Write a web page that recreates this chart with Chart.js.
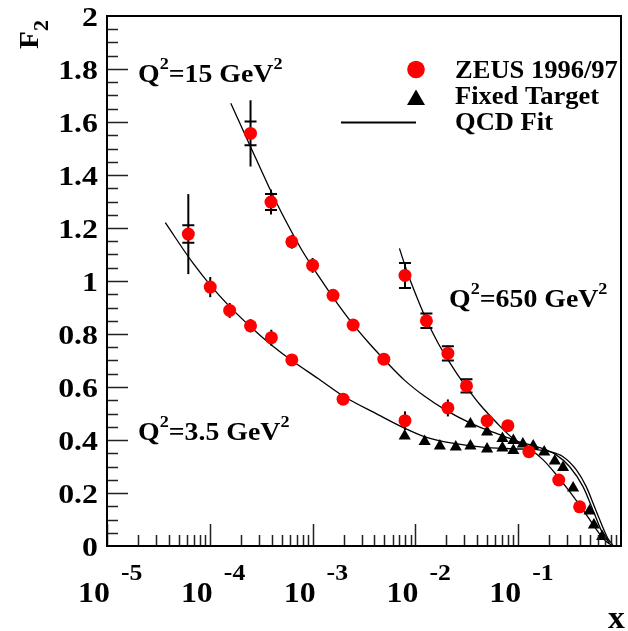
<!DOCTYPE html>
<html>
<head>
<meta charset="utf-8">
<title>F2 vs x</title>
<script src="https://cdn.jsdelivr.net/npm/chart.js@4.4.1/dist/chart.umd.min.js"></script>
<style>
  html, body { margin: 0; padding: 0; background: #fff; }
  #wrap { width: 628px; height: 631px; }
</style>
</head>
<body>
<div id="wrap"><canvas id="chartF2" width="628" height="631"></canvas></div>
<script>
// ==== Data: ZEUS 1996/97 ====
const zeusQ35X = [6.18e-5, 1.01e-4, 1.56e-4, 2.49e-4, 3.97e-4, 6.28e-4, 1.98e-3, 7.92e-3];
const zeusQ35Y = [1.177, 0.977, 0.889, 0.831, 0.786, 0.702, 0.554, 0.473];
const zeusQ35Stat = [0.033, 0.012, 0.01, 0.01, 0.01, 0.008, 0.008, 0.01];
const zeusQ35Tot = [0.151, 0.038, 0.028, 0.025, 0.03, 0.012, 0.012, 0.035];

const zeusQ15X = [2.49e-4, 3.94e-4, 6.28e-4, 1.0e-3, 1.58e-3, 2.48e-3, 4.93e-3, 2.07e-2];
const zeusQ15Y = [1.557, 1.298, 1.148, 1.059, 0.946, 0.834, 0.705, 0.521];
const zeusQ15Stat = [0.045, 0.03, 0.022, 0.01, 0.01, 0.01, 0.01, 0.01];
const zeusQ15Tot = [0.125, 0.047, 0.026, 0.028, 0.02, 0.015, 0.015, 0.032];

const zeusQ650X = [7.92e-3, 1.28e-2, 2.07e-2, 3.14e-2, 4.98e-2, 7.93e-2, 0.127, 0.248, 0.396];
const zeusQ650Y = [1.021, 0.850, 0.727, 0.604, 0.473, 0.454, 0.356, 0.249, 0.148];
const zeusQ650Stat = [0.047, 0.027, 0.027, 0.025, 0.012, 0.012, 0.01, 0.01, 0.01];
const zeusQ650Tot = [0.05, 0.029, 0.029, 0.027, 0.015, 0.015, 0.012, 0.012, 0.012];

// ==== Data: Fixed Target ====
const fixedX = [7.87e-3, 1.23e-2, 1.73e-2, 2.47e-2, 3.43e-2, 4.98e-2, 7.02e-2, 8.97e-2,
  3.43e-2, 4.98e-2, 7.02e-2, 8.97e-2, 0.111, 0.140, 0.179, 0.227, 0.273, 0.342, 0.494, 0.545, 0.656];
const fixedY = [0.415, 0.394, 0.377, 0.374, 0.377, 0.366, 0.370, 0.360,
  0.460, 0.430, 0.406, 0.398, 0.385, 0.377, 0.355, 0.321, 0.296, 0.219, 0.132, 0.079, 0.036];

// ==== Data: QCD Fit ====
const fitQ35X = [3.69e-5, 6.81e-5, 1.06e-4, 1.66e-4, 2.58e-4, 4.03e-4, 6.28e-4, 1.14e-3, 2.06e-3, 4.32e-3,
  7.82e-3, 1.22e-2, 2.37e-2, 4.98e-2, 0.104, 0.151, 0.203, 0.273, 0.368, 0.459, 0.552, 0.641, 0.744, 0.832];
const fitQ35Y = [1.22, 1.069, 0.975, 0.893, 0.822, 0.757, 0.700, 0.631, 0.562, 0.496,
  0.445, 0.413, 0.387, 0.371, 0.366, 0.364, 0.356, 0.337, 0.287, 0.224, 0.148, 0.086, 0.029, 0.004];

const fitQ15X = [1.60e-4, 2.49e-4, 3.75e-4, 5.43e-4, 7.85e-4, 1.14e-3, 1.65e-3, 2.38e-3, 3.46e-3, 5.01e-3,
  7.82e-3, 1.22e-2, 2.05e-2, 3.43e-2, 4.98e-2, 7.21e-2, 0.104, 0.151, 0.236, 0.317, 0.427, 0.533, 0.641, 0.771];
const fitQ15Y = [1.671, 1.507, 1.356, 1.230, 1.117, 1.019, 0.928, 0.845, 0.770, 0.702,
  0.626, 0.566, 0.509, 0.464, 0.438, 0.415, 0.392, 0.375, 0.343, 0.299, 0.224, 0.136, 0.060, 0.010];

const fitQ650X = [6.99e-3, 8.41e-3, 1.05e-2, 1.31e-2, 1.64e-2, 2.05e-2, 2.55e-2, 3.19e-2, 4.28e-2, 6.21e-2,
  9.01e-2, 0.130, 0.175, 0.236, 0.317, 0.427, 0.552, 0.690, 0.80];
const fitQ650Y = [1.123, 1.029, 0.932, 0.845, 0.770, 0.706, 0.649, 0.596, 0.532, 0.464,
  0.404, 0.366, 0.325, 0.268, 0.205, 0.136, 0.073, 0.023, 0.004];

// ==== Axis labels ====
const yTickValues = [0, 0.2, 0.4, 0.6, 0.8, 1, 1.2, 1.4, 1.6, 1.8, 2];
const yTickLabels = ['0', '0.2', '0.4', '0.6', '0.8', '1', '1.2', '1.4', '1.6', '1.8', '2'];
const xTickExps = [-5, -4, -3, -2, -1];
const legendLabels = ['ZEUS 1996/97', 'Fixed Target', 'QCD Fit'];
const q2Labels = ['15', '650', '3.5'];

const FONT = '"Liberation Serif", "Times New Roman", serif';
const toXY = (xs, ys) => xs.map((x, i) => ({ x: x, y: ys[i] }));

const errorSeries = [
  { x: zeusQ35X, y: zeusQ35Y, stat: zeusQ35Stat, tot: zeusQ35Tot },
  { x: zeusQ15X, y: zeusQ15Y, stat: zeusQ15Stat, tot: zeusQ15Tot },
  { x: zeusQ650X, y: zeusQ650Y, stat: zeusQ650Stat, tot: zeusQ650Tot }
];

// draws pieces of text (with super/subscripts) stretched horizontally like the original
function drawParts(ctx, parts, x, y, sx, align) {
  ctx.save();
  ctx.translate(x, y);
  ctx.scale(sx, 1);
  let w = 0;
  parts.forEach(p => {
    ctx.font = 'bold ' + p.size + 'px ' + FONT;
    p.w = ctx.measureText(p.t).width;
    w += p.w;
  });
  let cx = align === 'right' ? -w : (align === 'center' ? -w / 2 : 0);
  ctx.textAlign = 'left';
  ctx.textBaseline = 'alphabetic';
  ctx.fillStyle = '#000';
  parts.forEach(p => {
    ctx.font = 'bold ' + p.size + 'px ' + FONT;
    ctx.fillText(p.t, cx, p.dy || 0);
    cx += p.w;
  });
  ctx.restore();
}

function q2Parts(val) {
  return [
    { t: 'Q', size: 26 },
    { t: '2', size: 17, dy: -13 },
    { t: '=' + val + ' GeV', size: 26 },
    { t: '2', size: 17, dy: -13 }
  ];
}

// ==== Plugin: error bars, ROOT style frame, ticks, text ====
const paperPlugin = {
  id: 'paper',
  beforeDatasetsDraw(chart) {
    const ctx = chart.ctx;
    const xs = chart.scales.x, ys = chart.scales.y;
    ctx.save();
    ctx.strokeStyle = '#000';
    ctx.lineWidth = 2;
    errorSeries.forEach(s => {
      s.x.forEach((xv, i) => {
        const px = xs.getPixelForValue(xv);
        const top = ys.getPixelForValue(s.y[i] + s.tot[i]);
        const bot = ys.getPixelForValue(s.y[i] - s.tot[i]);
        ctx.beginPath();
        ctx.moveTo(px, top);
        ctx.lineTo(px, bot);
        ctx.stroke();
        const sTop = ys.getPixelForValue(s.y[i] + s.stat[i]);
        const sBot = ys.getPixelForValue(s.y[i] - s.stat[i]);
        if (sBot - sTop > 13) {
          ctx.beginPath();
          ctx.moveTo(px - 6, sTop); ctx.lineTo(px + 6, sTop);
          ctx.moveTo(px - 6, sBot); ctx.lineTo(px + 6, sBot);
          ctx.stroke();
        }
      });
    });
    ctx.restore();
  },
  afterDraw(chart) {
    const ctx = chart.ctx;
    const a = chart.chartArea;
    const xs = chart.scales.x, ys = chart.scales.y;
    ctx.save();

    // ticks on y axis
    ctx.strokeStyle = '#222';
    ctx.lineWidth = 1.5;
    ctx.beginPath();
    for (let k = 1; k < 40; k++) {
      const py = Math.round(ys.getPixelForValue(k * 0.05)) + 0.5;
      const len = (k % 4 === 0) ? 21 : 11;
      ctx.moveTo(a.left, py);
      ctx.lineTo(a.left + len, py);
    }
    // ticks on x axis
    xTickExps.forEach(e => {
      for (let m = 1; m <= 9; m++) {
        const px = Math.round(xs.getPixelForValue(m * Math.pow(10, e))) + 0.5;
        const len = (m === 1) ? 22 : 11;
        ctx.moveTo(px, a.bottom);
        ctx.lineTo(px, a.bottom - len);
      }
    });
    ctx.stroke();

    // frame
    ctx.strokeStyle = '#000';
    ctx.lineWidth = 2;
    ctx.strokeRect(a.left, a.top, a.right - a.left, a.bottom - a.top);

    // y tick labels
    yTickValues.forEach((v, i) => {
      const py = ys.getPixelForValue(v);
      drawParts(ctx, [{ t: yTickLabels[i], size: 27 }], 98, py + 10, 1.18, 'right');
    });

    // x tick labels: 10 with exponent
    xTickExps.forEach(e => {
      const px = xs.getPixelForValue(Math.pow(10, e));
      drawParts(ctx, [{ t: '10', size: 29 }], px + 3, 602, 1.1, 'right');
      drawParts(ctx, [{ t: '-' + Math.abs(e), size: 23 }], px + 14, 580, 1.12, 'left');
    });

    // axis titles
    drawParts(ctx, [{ t: 'x', size: 32 }], 608, 628, 1.05, 'left');
    ctx.save();
    ctx.translate(38, 49);
    ctx.rotate(-Math.PI / 2);
    drawParts(ctx, [{ t: 'F', size: 27 }, { t: '2', size: 21, dy: 10 }], 0, 0, 1.08, 'left');
    ctx.restore();

    // Q2 annotations
    drawParts(ctx, q2Parts(q2Labels[0]), 138, 82, 1.07, 'left');
    drawParts(ctx, q2Parts(q2Labels[1]), 449, 307, 1.07, 'left');
    drawParts(ctx, q2Parts(q2Labels[2]), 138, 440, 1.07, 'left');

    // legend
    ctx.fillStyle = '#ff0000';
    ctx.beginPath();
    ctx.arc(416, 69.5, 8.8, 0, Math.PI * 2);
    ctx.fill();
    ctx.fillStyle = '#000';
    ctx.beginPath();
    ctx.moveTo(416, 89.5);
    ctx.lineTo(425, 105);
    ctx.lineTo(407, 105);
    ctx.closePath();
    ctx.fill();
    ctx.strokeStyle = '#000';
    ctx.lineWidth = 2;
    ctx.beginPath();
    ctx.moveTo(341, 122.5);
    ctx.lineTo(416, 122.5);
    ctx.stroke();
    drawParts(ctx, [{ t: legendLabels[0], size: 26 }], 455, 78, 1.02, 'left');
    drawParts(ctx, [{ t: legendLabels[1], size: 26 }], 455, 104, 1.02, 'left');
    drawParts(ctx, [{ t: legendLabels[2], size: 26 }], 455, 130, 1.02, 'left');

    ctx.restore();
  }
};

const zeusStyle = { pointStyle: 'circle', pointRadius: 6.5, backgroundColor: '#ff0000', borderWidth: 0, showLine: false, order: 1 };
const fitStyle = { showLine: true, pointRadius: 0, borderColor: '#000', borderWidth: 1.3, cubicInterpolationMode: 'monotone', order: 2 };

const ctxF2 = document.getElementById('chartF2').getContext('2d');
const chartF2 = new Chart(ctxF2, {
  type: 'scatter',
  data: {
    datasets: [
      Object.assign({ label: 'ZEUS Q2=3.5', data: toXY(zeusQ35X, zeusQ35Y) }, zeusStyle),
      Object.assign({ label: 'ZEUS Q2=15', data: toXY(zeusQ15X, zeusQ15Y) }, zeusStyle),
      Object.assign({ label: 'ZEUS Q2=650', data: toXY(zeusQ650X, zeusQ650Y) }, zeusStyle),
      {
        label: 'Fixed Target', data: toXY(fixedX, fixedY), pointStyle: 'triangle', pointRadius: 7,
        backgroundColor: '#000', borderColor: '#000', borderWidth: 0, showLine: false, order: 1
      },
      Object.assign({ label: 'QCD Fit Q2=3.5', data: toXY(fitQ35X, fitQ35Y) }, fitStyle),
      Object.assign({ label: 'QCD Fit Q2=15', data: toXY(fitQ15X, fitQ15Y) }, fitStyle),
      Object.assign({ label: 'QCD Fit Q2=650', data: toXY(fitQ650X, fitQ650Y) }, fitStyle)
    ]
  },
  options: {
    responsive: false,
    animation: false,
    events: [],
    layout: { padding: { left: 107, top: 16, right: 3, bottom: 85 } },
    plugins: { legend: { display: false }, tooltip: { enabled: false } },
    scales: {
      x: { type: 'logarithmic', min: 1e-5, max: 1, display: false },
      y: { type: 'linear', min: 0, max: 2, display: false }
    }
  },
  plugins: [paperPlugin]
});
</script>
</body>
</html>
